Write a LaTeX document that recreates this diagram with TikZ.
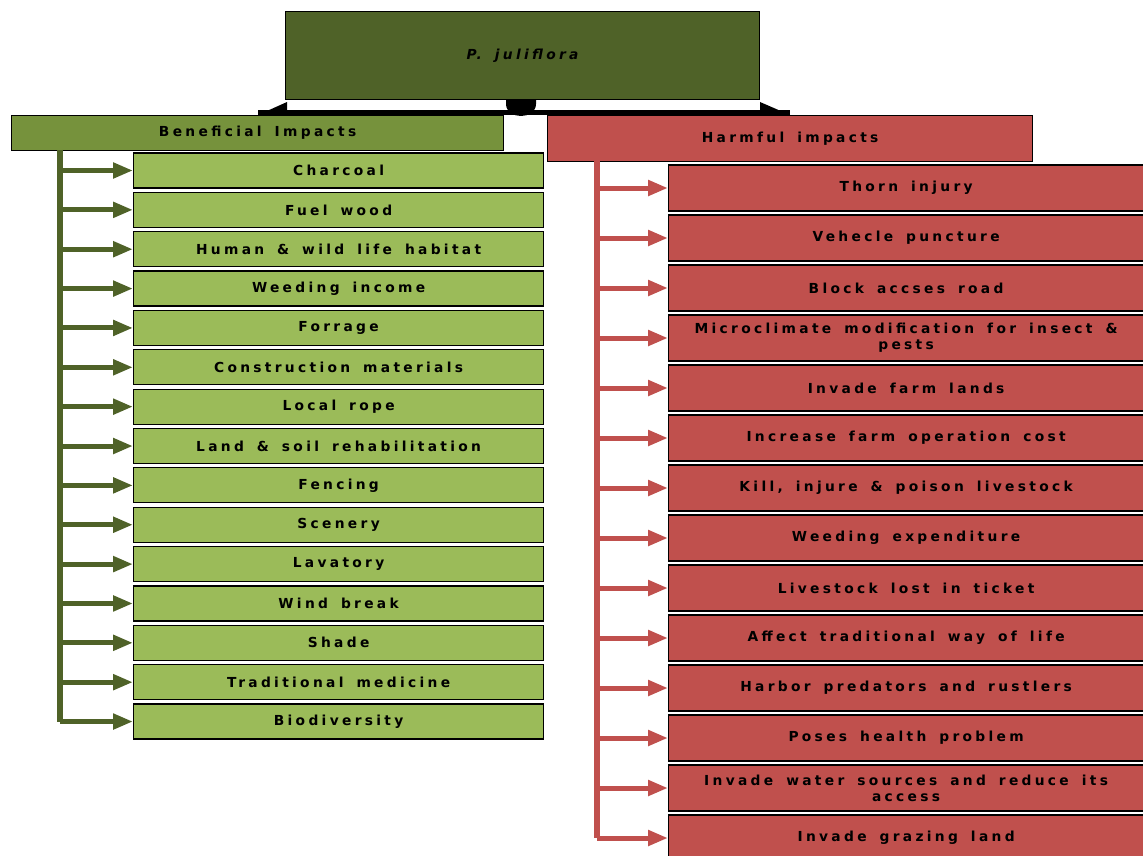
\documentclass[tikz,border=0pt]{standalone}
\usepackage{fontspec}
\usetikzlibrary{arrows.meta,positioning}
\newfontfamily\lblfont[LetterSpace=24,WordSpace=1.6]{DejaVu Sans}
\definecolor{darkolive}{HTML}{4F6228}
\definecolor{olivebox}{HTML}{76923C}
\definecolor{greenbox}{HTML}{9BBB59}
\definecolor{redbox}{HTML}{C0504D}
\tikzset{
  lbl/.style={font=\lblfont\bfseries\fontsize{13.8}{16}\selectfont, text=black},
  gbox/.style={lbl, draw=black, line width=1.2pt, fill=greenbox, minimum width=410pt, minimum height=35pt, inner sep=0pt, anchor=west},
  rbox/.style={lbl, draw=black, line width=1.2pt, fill=redbox, minimum width=475pt, minimum height=46pt, inner sep=0pt, anchor=west, align=center},
  garrow/.style={draw=darkolive, line width=5pt, -{Triangle[length=20pt,width=15pt]}},
  rarrow/.style={draw=redbox, line width=5pt, -{Triangle[length=20pt,width=15pt]}},
}
\begin{document}
\begin{tikzpicture}[x=1pt,y=-1pt]
\clip (0,0) rectangle (1143,856);
\fill[white] (0,0) rectangle (1143,856);
% connector under top box
\fill[black] (258,110) rectangle (790,115);
\fill[black] (258,115) -- (287,102) -- (287,115) -- cycle;
\fill[black] (760,102) -- (790,115) -- (760,115) -- cycle;
\fill[black] (506,99) -- (536,99) -- (536,104) .. controls (536,112) and (528,116) .. (521,116) .. controls (514,116) and (506,112) .. (506,104) -- cycle;
% top box
\node[lbl, draw=black, line width=1.2pt, fill=darkolive, minimum width=474pt, minimum height=88pt, inner sep=0pt, anchor=north west, font=\lblfont\bfseries\itshape\fontsize{13.8}{16}\selectfont] (top) at (285,11) {P. juliflora};
% category boxes
\node[lbl, draw=black, line width=1.2pt, fill=olivebox, minimum width=492pt, minimum height=35pt, inner sep=0pt, anchor=north west] (ben) at (11,115) {Beneficial Impacts};
\node[lbl, draw=black, line width=1.2pt, fill=redbox, minimum width=485pt, minimum height=46pt, inner sep=0pt, anchor=north west] (harm) at (547,115) {Harmful impacts};
% green items
\foreach \i/\t in {0/Charcoal,1/Fuel wood,2/Human \& wild life habitat,3/Weeding income,4/Forrage,5/Construction materials,6/Local rope,7/Land \& soil rehabilitation,8/Fencing,9/Scenery,10/Lavatory,11/Wind break,12/Shade,13/Traditional medicine,14/Biodiversity}{
  \node[gbox] (g\i) at (133,{170.5+39.36*\i}) {\t};
}
% red items
\foreach \i/\t in {0/Thorn injury,1/Vehecle puncture,2/Block accses road,3/Microclimate modification for insect \&\\pests,4/Invade farm lands,5/Increase farm operation cost,6/{Kill, injure \& poison livestock},7/Weeding expenditure,8/Livestock lost in ticket,9/Affect traditional way of life,10/Harbor predators and rustlers,11/Poses health problem,12/Invade water sources and reduce its\\access,13/Invade grazing land}{
  \node[rbox] (r\i) at (668,{188+50*\i}) {\t};
}
% trunks
\coordinate (gtop) at (60,150);
\coordinate (gbot) at (60,721.9);
\draw[darkolive, line width=6pt] (gtop) -- (gbot);
\coordinate (rtop) at (597,161);
\coordinate (rbot) at (597,838);
\draw[redbox, line width=6pt] (rtop) -- (rbot);
\foreach \i in {0,...,14}{
  \draw[garrow] (g\i.west -| gtop) -- (g\i.west);
}
\foreach \i in {0,...,13}{
  \draw[rarrow] (r\i.west -| rtop) -- (r\i.west);
}
\end{tikzpicture}
\end{document}
